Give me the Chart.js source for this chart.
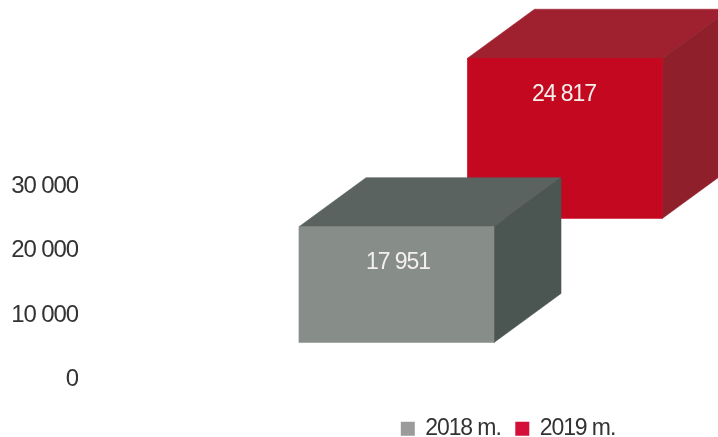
<!DOCTYPE html>
<html>
<head>
<meta charset="utf-8">
<style>html,body{margin:0;padding:0;background:#fff;}canvas{display:block;}</style>
<script src="https://cdn.jsdelivr.net/npm/chart.js@4"></script>
</head>
<body>
<canvas id="c" width="718" height="437"></canvas>
<script>
const categories = ["2018 m.", "2019 m."];
const values = [17951, 24817];
const floatBases = [5745, 25000];
const tickValues = [0, 10000, 20000, 30000];
const frontColors = ["#878d89", "#c4081f"];
const topColors = ["#5b6360", "#9f212f"];
const sideColors = ["#4b5551", "#8f1f2b"];
const legendColors = ["#9b9b9b", "#d40f3a"];

const FONT = "Liberation Sans, Arial, sans-serif";
const DEPTH_X = 67, DEPTH_Y = 49;
const TIGHT = "-1.1px";
const fmt = v => String(v).replace(/\B(?=(\d{3})+(?!\d))/g, " ");

const box3d = {
  id: "box3d",
  beforeLayout(chart) { chart.ctx.letterSpacing = TIGHT; },
  beforeDraw(chart) { chart.ctx.letterSpacing = TIGHT; },
  afterLayout(chart) {
    const l = chart.legend;
    l.left += 184; l.right += 184; l.top += 22; l.bottom += 22;
  },
  beforeDatasetDraw(chart, args) {
    const i = args.index;
    const el = args.meta.data[0];
    if (!el) return;
    const p = el.getProps(["x", "y", "base", "width"], true);
    const L = p.x - p.width / 2, R = p.x + p.width / 2, T = p.y, B = p.base;
    const ctx = chart.ctx;
    ctx.save();
    ctx.lineWidth = 0.6;
    ctx.fillStyle = ctx.strokeStyle = topColors[i];
    ctx.beginPath();
    ctx.moveTo(L, T); ctx.lineTo(L + DEPTH_X, T - DEPTH_Y);
    ctx.lineTo(R + DEPTH_X, T - DEPTH_Y); ctx.lineTo(R, T);
    ctx.closePath(); ctx.fill(); ctx.stroke();
    ctx.fillStyle = ctx.strokeStyle = sideColors[i];
    ctx.beginPath();
    ctx.moveTo(R, T); ctx.lineTo(R + DEPTH_X, T - DEPTH_Y);
    ctx.lineTo(R + DEPTH_X, B - DEPTH_Y); ctx.lineTo(R, B);
    ctx.closePath(); ctx.fill(); ctx.stroke();
    ctx.restore();
  },
  afterDatasetDraw(chart, args) {
    const i = args.index;
    const el = args.meta.data[0];
    if (!el) return;
    const p = el.getProps(["x", "y"], true);
    const ctx = chart.ctx;
    ctx.save();
    ctx.fillStyle = "#f4f0ee";
    ctx.font = "23px " + FONT;
    ctx.textAlign = "center";
    ctx.textBaseline = "middle";
    ctx.fillText(fmt(values[i]), p.x + (i === 0 ? 1.5 : -1), p.y + 36);
    ctx.restore();
  }
};

const datasets = categories.map((name, i) => ({
  label: name,
  data: [{ x: i, y: [floatBases[i], floatBases[i] + values[i]] }],
  backgroundColor: frontColors[i],
  borderWidth: 0,
  barThickness: 195,
  grouped: false,
  clip: false
}));

new Chart(document.getElementById("c"), {
  type: "bar",
  data: { datasets },
  plugins: [box3d],
  options: {
    responsive: false,
    animation: false,
    devicePixelRatio: 1,
    layout: { padding: { top: 24.8, right: 69, bottom: 8.8, left: 0 } },
    plugins: {
      tooltip: { enabled: false },
      legend: {
        position: "bottom",
        onClick: null,
        labels: {
          color: "#333",
          font: { family: FONT, size: 23 },
          boxWidth: 12,
          boxHeight: 12,
          padding: 15.6,
          generateLabels: () => categories.map((name, i) => ({
            text: name,
            fillStyle: legendColors[i],
            strokeStyle: legendColors[i],
            lineWidth: 2,
            fontColor: "#333",
            datasetIndex: i
          }))
        }
      }
    },
    scales: {
      x: { type: "linear", display: false, offset: false, min: -1.89, max: 1.4985, grid: { display: false } },
      y: {
        min: 0,
        max: 55000,
        grid: { display: false, drawTicks: false },
        border: { display: false },
        afterFit(s) { s.width = 78; },
        afterBuildTicks(s) { s.ticks = tickValues.map(v => ({ value: v })); },
        ticks: {
          autoSkip: false,
          padding: 0,
          color: "#333",
          font: { family: FONT, size: 24 },
          callback: v => fmt(v)
        }
      }
    }
  }
});
</script>
</body>
</html>
